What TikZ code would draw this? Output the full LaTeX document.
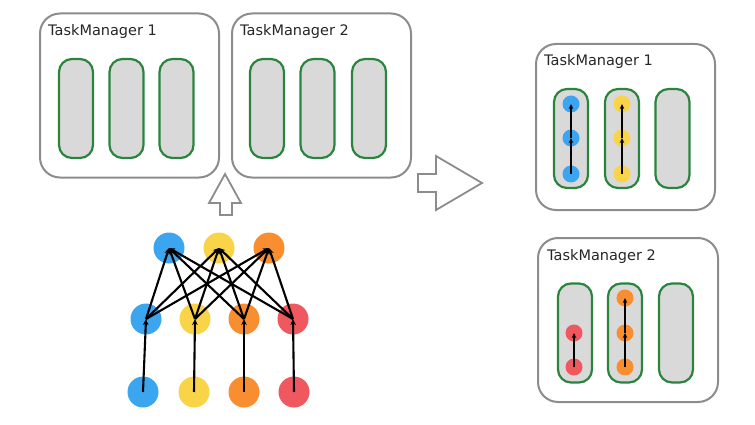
\documentclass[tikz,border=0pt]{standalone}
\usepackage{fontspec}
\setmainfont{DejaVu Sans}
\usetikzlibrary{arrows.meta}
\definecolor{cblue}{RGB}{60,165,240}
\definecolor{cyellow}{RGB}{250,212,72}
\definecolor{corange}{RGB}{248,142,48}
\definecolor{cred}{RGB}{240,88,96}
\definecolor{slotgray}{RGB}{217,217,217}
\definecolor{slotgreen}{RGB}{42,132,62}
\definecolor{boxgray}{RGB}{140,140,140}
\begin{document}
\begin{tikzpicture}
  [x=1pt,y=-1pt,
   tm/.style={draw=boxgray,line width=2pt,rounded corners=20pt,minimum width=179pt,minimum height=164pt,inner sep=0pt},
   slot/.style={draw=slotgreen,fill=slotgray,line width=2.2pt,rounded corners=13pt,minimum width=34pt,minimum height=99pt,inner sep=0pt},
   tmlabel/.style={anchor=west,inner sep=0pt,font=\fontsize{14.5}{16}\selectfont,text=black!85},
   vert/.style={circle,minimum size=31pt,inner sep=0pt},
   dot/.style={circle,minimum size=17pt,inner sep=0pt},
   flow/.style={-{Stealth[length=6pt,width=5.5pt]},line width=2.1pt},
   hop/.style={-{Stealth[length=5pt,width=4.5pt]},line width=1.8pt},
   blockarrow/.style={draw=boxgray,fill=white,line width=1.8pt}]
\useasboundingbox (0,0) rectangle (755,425);

% task managers before
\node (tm1)[tm] at (129.5,95.5) {};
  \node (tm2)[tm] at (321.5,95.5) {};
  \node (l1)[tmlabel] at (48,32) {TaskManager 1};
  \node (l2)[tmlabel] at (240,32) {TaskManager 2};
 \foreach \name/\x in {a1/76,a2/126.5,a3/176.5,a4/267,a5/317.5,a6/369}
    \node (\name)[slot] at (\x,108.5) {};

% task managers after
\node (rtm1)[tm,minimum height=166pt] at (625.5,127) {};
  \node (rtm2)[tm,minimum width=180pt] at (628,320) {};
  \node (rl1)[tmlabel] at (544,62) {TaskManager 1};
  \node (rl2)[tmlabel] at (547,256) {TaskManager 2};
 \foreach \name/\x in {b1/571,b2/622,b3/672.5}
    \node (\name)[slot] at (\x,138.5) {};
 \foreach \name/\x in {c1/575,c2/625,c3/676}
    \node (\name)[slot] at (\x,333) {};

% block arrows
\draw[blockarrow] (225,174) -- (241,203) -- (232,203) -- (232,215)
  -- (220,215) -- (220,203) -- (209,203) -- cycle;
\draw[blockarrow] (418,174) -- (436,174) -- (436,156) -- (482,183)
  -- (436,210) -- (436,192) -- (418,192) -- cycle;

% job graph
\node (t1)[vert,fill=cblue] at (169,248) {};
  \node (t2)[vert,fill=cyellow] at (219,248) {};
  \node (t3)[vert,fill=corange] at (269,248) {};
  \node (m1)[vert,fill=cblue] at (146,319) {};
  \node (m2)[vert,fill=cyellow] at (195,319) {};
  \node (m3)[vert,fill=corange] at (244,319) {};
  \node (m4)[vert,fill=cred] at (293,319) {};
  \node (s1)[vert,fill=cblue] at (143,392) {};
  \node (s2)[vert,fill=cyellow] at (194,392) {};
  \node (s3)[vert,fill=corange] at (244,392) {};
  \node (s4)[vert,fill=cred] at (294,392) {};

 \foreach \from/\to in {s1/m1,s2/m2,s3/m3,s4/m4}
    \draw[flow] (\from.center) -- (\to.center);
 \foreach \from in {m1,m2,m3,m4}
  \foreach \to in {t1,t2,t3}
    \draw[flow] (\from.center) -- (\to.center);

% deployed subtasks
\node (p1)[dot,fill=cblue] at (571,174) {};
  \node (p2)[dot,fill=cblue] at (571,138) {};
  \node (p3)[dot,fill=cblue] at (571,104) {};
  \node (q1)[dot,fill=cyellow] at (622,174) {};
  \node (q2)[dot,fill=cyellow] at (622,138) {};
  \node (q3)[dot,fill=cyellow] at (622,104) {};
  \node (r1)[dot,fill=cred] at (574,367) {};
  \node (r2)[dot,fill=cred] at (574,333) {};
  \node (o1)[dot,fill=corange] at (625,367) {};
  \node (o2)[dot,fill=corange] at (625,333) {};
  \node (o3)[dot,fill=corange] at (625,298) {};

 \foreach \from/\to in {p1/p2,p2/p3,q1/q2,q2/q3,r1/r2,o1/o2,o2/o3}
    \draw[hop] (\from.center) -- (\to.center);

\end{tikzpicture}
\end{document}
